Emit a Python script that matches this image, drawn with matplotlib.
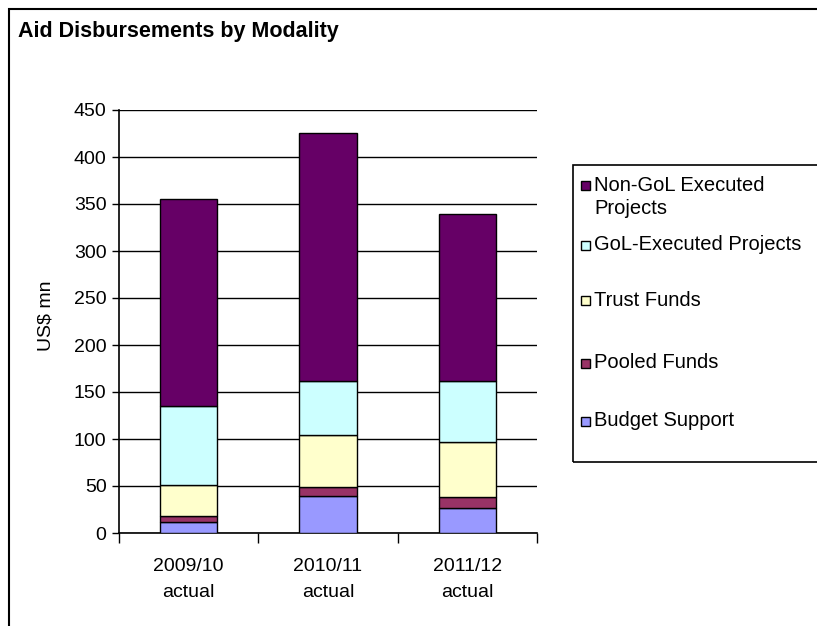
import numpy as np
import matplotlib.pyplot as plt
from matplotlib.patches import Rectangle

plt.rcParams['font.family'] = ['Liberation Sans', 'DejaVu Sans']

years = ["2009/10\nactual", "2010/11\nactual", "2011/12\nactual"]

# stacked from the bottom up, US$ mn
budget_support = [12, 39, 27]
pooled_funds = [6, 10, 11]
trust_funds = [33, 55, 59]
gol_executed = [84, 58, 65]
non_gol_executed = [220, 264, 177]

series = [
    ("Budget Support", budget_support, "#9999FF"),
    ("Pooled Funds", pooled_funds, "#993366"),
    ("Trust Funds", trust_funds, "#FFFFCC"),
    ("GoL-Executed Projects", gol_executed, "#CCFFFF"),
    ("Non-GoL Executed\nProjects", non_gol_executed, "#660066"),
]

W, H = 817, 626
fig = plt.figure(figsize=(W / 100, H / 100), dpi=100)

def fx(px):
    return px / W

def fy(py):
    return 1 - py / H

# chart area border (runs off the right and bottom edges)
fig.patches.append(Rectangle((fx(9), fy(660)), fx(900), (660 - 8.5) / H,
                             transform=fig.transFigure, fill=False,
                             edgecolor='black', linewidth=1.5))

ax = fig.add_axes([fx(119), fy(533), fx(418), 423 / H])

x = np.arange(len(years))
bottom = np.zeros(len(years))
for name, vals, col in series:
    ax.bar(x, vals, width=0.41, bottom=bottom, color=col, edgecolor='black',
           linewidth=1.0, label=name, zorder=3)
    bottom += np.array(vals)

ax.set_xlim(-0.5, 2.5)
ax.set_ylim(0, 450)
ax.set_yticks(np.arange(0, 451, 50))
ax.yaxis.grid(True, color='black', linewidth=1.0, zorder=0)
ax.set_axisbelow(True)
ax.set_xticks(x)
ax.set_xticklabels(years, fontsize=14, linespacing=1.7)
ax.tick_params(axis='x', length=0, pad=18)
ax.tick_params(axis='y', labelsize=14, length=5, width=1.0, direction='out', pad=4)
# category separators along the x axis
ax.set_xticks([-0.5, 0.5, 1.5, 2.5], minor=True)
ax.tick_params(axis='x', which='minor', length=7, width=1.0, direction='out')
for s in ['top', 'right']:
    ax.spines[s].set_visible(False)
ax.spines['left'].set_linewidth(1.2)
ax.spines['bottom'].set_linewidth(1.2)
ax.set_ylabel("US$ mn", fontsize=14)
ax.yaxis.set_label_coords((54 - 119) / 418, (533 - 316) / 423)

fig.text(fx(18), fy(32), "Aid Disbursements by Modality", fontsize=15.5,
         fontweight='bold', va='center', ha='left')

# legend box, entries listed top-down
fig.patches.append(Rectangle((fx(573), fy(462)), fx(300), (462 - 165) / H,
                             transform=fig.transFigure, fill=False,
                             edgecolor='black', linewidth=1.2))
entry_y = [186, 245, 300, 363, 421]
for (name, vals, col), ey in zip(series[::-1], entry_y):
    fig.patches.append(Rectangle((fx(581), fy(ey + 4.5)), fx(9), 9 / H,
                                 transform=fig.transFigure, facecolor=col,
                                 edgecolor='black', linewidth=1.0))
    if '\n' in name:
        fig.text(fx(594), fy(ey - 10), name, fontsize=14.5, va='top', ha='left',
                 linespacing=1.3)
    else:
        fig.text(fx(594), fy(ey), name, fontsize=14.5, va='center', ha='left')

plt.savefig('out.png', dpi=100)
